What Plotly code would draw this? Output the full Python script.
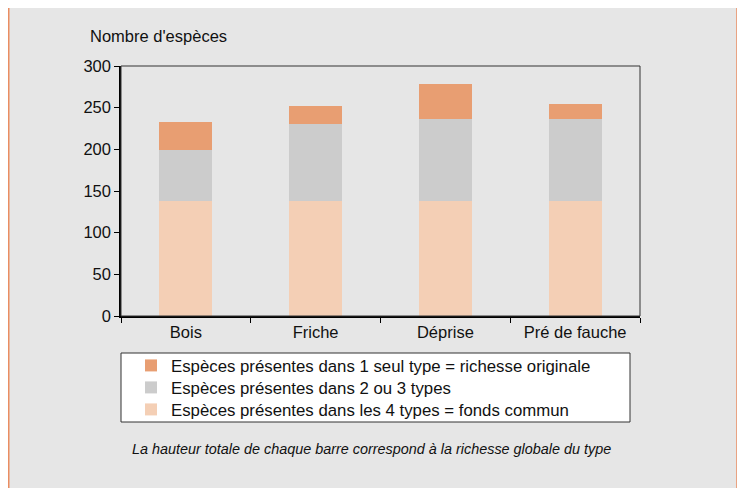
import plotly.graph_objects as go

categories = ["Bois", "Friche", "Déprise", "Pré de fauche"]
fonds_commun = [138, 138, 138, 138]
deux_ou_trois = [61, 93, 98, 98]
un_seul = [34, 21, 42, 19]

series_names = [
    "Espèces présentes dans les 4 types = fonds commun",
    "Espèces présentes dans 2 ou 3 types",
    "Espèces présentes dans 1 seul type = richesse originale",
]
series_colors = ["#f4cfb5", "#cccccc", "#e89e72"]
y_ticks = [0, 50, 100, 150, 200, 250, 300]

FONT = "Arial, Liberation Sans, sans-serif"
FS = 16.5
LFS = 16.8

# the page body adds an 8px offset; screen coords = figure coords + 8
W, H = 737, 480
L, R, T, B = 113, 105, 58, 172
pw, ph = W - L - R, H - T - B

def px(x):  # screen x -> paper
    return (x - 8 - L) / pw

def py(y):  # screen y -> paper
    return (H - B - (y - 8)) / ph

legend_ids = ["legend3", "legend2", "legend"]
legend_rows = [410, 388, 366]

fig = go.Figure()
for name, vals, col, lid in zip(series_names, [fonds_commun, deux_ou_trois, un_seul], series_colors, legend_ids):
    fig.add_trace(go.Bar(x=categories, y=vals, name=name, legend=lid,
                         marker=dict(color=col, line=dict(width=0))))

legend_common = dict(xanchor="left", yanchor="top", bgcolor="rgba(0,0,0,0)", borderwidth=0,
                     font=dict(size=LFS, family=FONT, color="#111111"))
legends = {}
for lid, row in zip(legend_ids, legend_rows):
    legends[lid] = dict(x=px(131), y=py(row - 18), **legend_common)

fig.update_layout(
    width=W, height=H,
    margin=dict(l=L, r=R, t=T, b=B, pad=0),
    barmode="stack",
    bargap=0.59,
    paper_bgcolor="white",
    plot_bgcolor="white",
    font=dict(family=FONT, size=FS, color="#111111"),
    showlegend=True,
    xaxis=dict(
        showline=True, linecolor="black", linewidth=2,
        ticks="outside", tickson="boundaries", ticklen=5, tickcolor="black", tickwidth=1,
        showgrid=False, tickfont=dict(size=FS), fixedrange=True,
    ),
    yaxis=dict(
        range=[0, 300], tickvals=y_ticks, showline=True, linecolor="black", linewidth=1.5,
        ticks="outside", ticklen=5, tickcolor="black", tickwidth=1,
        showgrid=False, zeroline=False, tickfont=dict(size=FS), fixedrange=True,
    ),
    shapes=[
        dict(type="rect", xref="paper", yref="paper",
             x0=px(8.75), x1=px(737), y0=py(520), y1=py(5),
             fillcolor="#e6e6e6", line=dict(color="#ea8d62", width=1.5), layer="below"),
        dict(type="rect", xref="paper", yref="paper", x0=0, x1=1, y0=0, y1=1,
             line=dict(color="#333333", width=1), fillcolor="rgba(0,0,0,0)", layer="above"),
        dict(type="rect", xref="paper", yref="paper",
             x0=px(121), x1=px(630), y0=py(422), y1=py(353),
             fillcolor="white", line=dict(color="#333333", width=1), layer="below"),
    ],
    annotations=[
        dict(text="Nombre d'espèces", xref="paper", yref="paper", x=px(88), y=py(36),
             xanchor="left", yanchor="middle", showarrow=False, font=dict(size=FS)),
        dict(text="<i>La hauteur totale de chaque barre correspond à la richesse globale du type</i>",
             xref="paper", yref="paper", x=px(371.5), y=py(449), xanchor="center", yanchor="middle",
             showarrow=False, font=dict(size=14.4)),
    ],
    **legends,
)

fig.write_html("out.html")
